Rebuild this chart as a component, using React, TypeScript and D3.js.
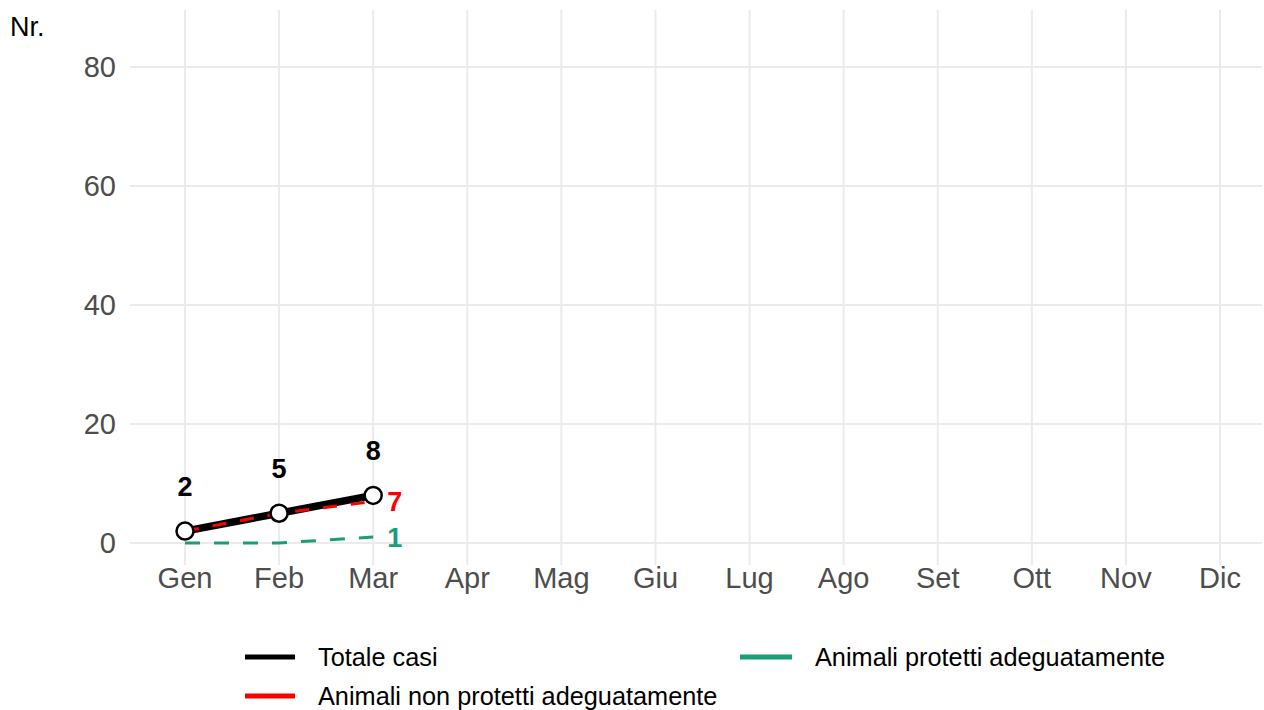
import React from "react";
import * as d3 from "d3";

const months = ["Gen", "Feb", "Mar", "Apr", "Mag", "Giu", "Lug", "Ago", "Set", "Ott", "Nov", "Dic"];
const totale = [2, 5, 8];
const nonProtetti = [2, 5, 7];
const protetti = [0, 0, 1];
const yTicks = [0, 20, 40, 60, 80];

const W = 1264;
const H = 710;
const FONT = "Liberation Sans, Arial, sans-serif";
const GREEN = "#1b9e77";

export default function App() {
  const x = d3.scalePoint<string>().domain(months).range([185, 1220]);
  const y = d3.scaleLinear().domain([-3.7, 89.6]).range([565, 10]);
  const line = d3
    .line<number>()
    .x((_, i) => x(months[i]) as number)
    .y((d) => y(d));
  const last = totale.length - 1;
  const xl = x(months[last]) as number;

  return (
    <svg width={W} height={H} style={{ position: "absolute", left: 0, top: 0, background: "#fff" }}>
      <rect width={W} height={H} fill="#fff" />
      {yTicks.map((t) => (
        <g key={t}>
          <line x1={130} x2={1262} y1={y(t)} y2={y(t)} stroke="#ebebeb" strokeWidth={2} />
          <text x={116} y={y(t)} dy="0.35em" textAnchor="end" fontFamily={FONT} fontSize={29} fill="#4d4d4d">
            {t}
          </text>
        </g>
      ))}
      {months.map((m) => (
        <g key={m}>
          <line x1={x(m)} x2={x(m)} y1={10} y2={565} stroke="#ebebeb" strokeWidth={2} />
          <text x={x(m)} y={588} textAnchor="middle" fontFamily={FONT} fontSize={29} fill="#4d4d4d">
            {m}
          </text>
        </g>
      ))}
      <text x={10} y={36} fontFamily={FONT} fontSize={27} fill="#000">Nr.</text>

      <path d={line(protetti) || ""} fill="none" stroke={GREEN} strokeWidth={3} strokeDasharray="15 14" />
      <path d={line(totale) || ""} fill="none" stroke="#000" strokeWidth={7.5} />
      <path d={line(nonProtetti) || ""} fill="none" stroke="#ff0000" strokeWidth={3} strokeDasharray="14 14" />
      {totale.map((v, i) => (
        <circle key={i} cx={x(months[i]) as number} cy={y(v)} r={8.5} fill="#fff" stroke="#000" strokeWidth={2.5} />
      ))}
      {totale.map((v, i) => (
        <text key={"l" + i} x={x(months[i]) as number} y={y(v) - 35} textAnchor="middle" fontFamily={FONT} fontSize={27} fontWeight="bold" fill="#000">
          {v}
        </text>
      ))}
      <text x={xl + 14} y={y(nonProtetti[last])} dy="0.36em" fontFamily={FONT} fontSize={27} fontWeight="bold" fill="#ff0000">
        {nonProtetti[last]}
      </text>
      <text x={xl + 14} y={y(protetti[last])} dy="0.36em" fontFamily={FONT} fontSize={27} fontWeight="bold" fill={GREEN}>
        {protetti[last]}
      </text>

      <g fontFamily={FONT} fontSize={25.3} fill="#000">
        <line x1={245} x2={295} y1={657} y2={657} stroke="#000" strokeWidth={5} />
        <text x={318} y={657} dy="0.35em">Totale casi</text>
        <line x1={245} x2={295} y1={696} y2={696} stroke="#ff0000" strokeWidth={5} />
        <text x={318} y={696} dy="0.35em">Animali non protetti adeguatamente</text>
        <line x1={740} x2={792} y1={657} y2={657} stroke={GREEN} strokeWidth={5} />
        <text x={815} y={657} dy="0.35em">Animali protetti adeguatamente</text>
      </g>
    </svg>
  );
}
